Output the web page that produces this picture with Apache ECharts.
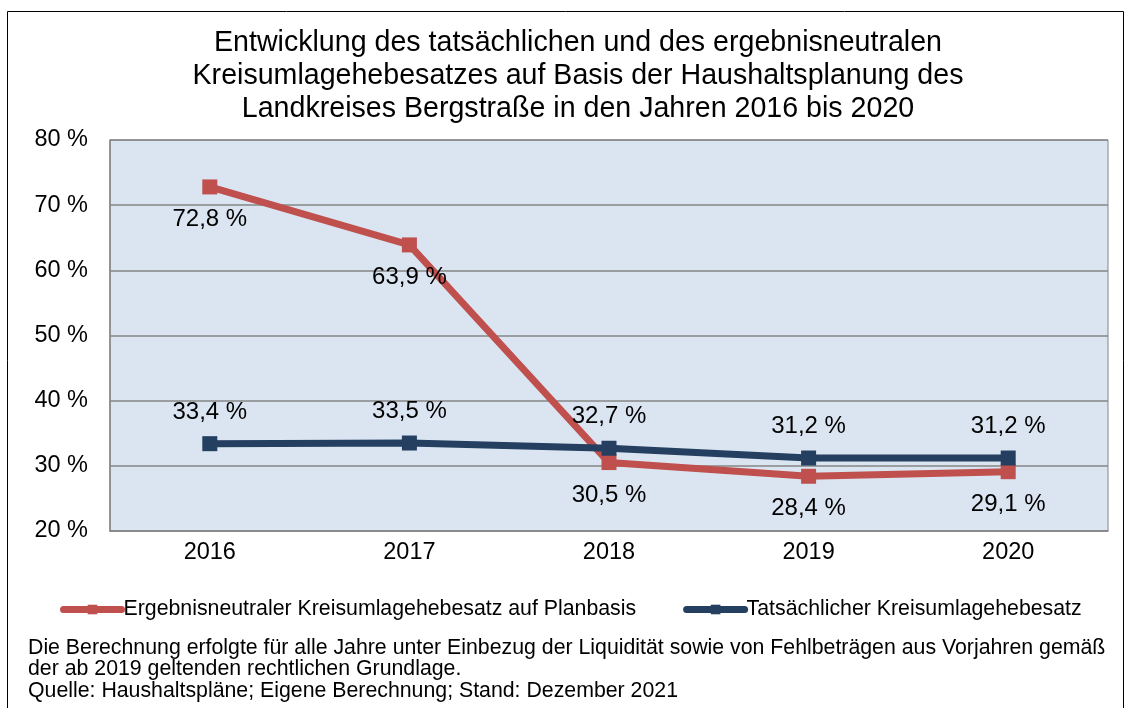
<!DOCTYPE html>
<html>
<head>
<meta charset="utf-8">
<script src="https://cdn.jsdelivr.net/npm/echarts@6/dist/echarts.min.js"></script>
<style>
html, body { margin: 0; padding: 0; background: #fff; }
#chart { width: 1131px; height: 708px; }
</style>
</head>
<body>
<div id="chart"></div>
<script>
var jahre = ['2016', '2017', '2018', '2019', '2020'];
var planbasis = [72.8, 63.9, 30.5, 28.4, 29.1];
var tatsaechlich = [33.4, 33.5, 32.7, 31.2, 31.2];
var titel = [
    'Entwicklung des tatsächlichen und des ergebnisneutralen',
    'Kreisumlagehebesatzes auf Basis der Haushaltsplanung des',
    'Landkreises Bergstraße in den Jahren 2016 bis 2020'
];
var fussnote = [
    'Die Berechnung erfolgte für alle Jahre unter Einbezug der Liquidität sowie von Fehlbeträgen aus Vorjahren gemäß',
    'der ab 2019 geltenden rechtlichen Grundlage.',
    'Quelle: Haushaltspläne; Eigene Berechnung; Stand: Dezember 2021'
];

var font = 'Liberation Sans, Arial, sans-serif';
var myChart = echarts.init(document.getElementById('chart'));

function fmt(v) {
    return v.toFixed(1).replace('.', ',') + ' %';
}

var option = {
    backgroundColor: '#fff',
    animation: false,
    legend: {
        left: 55,
        top: 594,
        itemWidth: 58,
        itemHeight: 12,
        itemGap: 47,
        lineStyle: { width: 7, cap: 'round' },
        textStyle: { fontFamily: font, fontSize: 21.3, color: '#000', padding: [0, 0, 0, -3] },
        data: ['Ergebnisneutraler Kreisumlagehebesatz auf Planbasis', 'Tatsächlicher Kreisumlagehebesatz']
    },
    grid: {
        left: 110,
        right: 23,
        top: 140,
        bottom: 177,
        show: true,
        backgroundColor: '#dbe5f1',
        borderColor: '#868686',
        borderWidth: 1
    },
    xAxis: {
        type: 'category',
        data: jahre,
        boundaryGap: true,
        axisLine: { lineStyle: { color: '#868686', width: 1.5 } },
        axisTick: { show: false },
        axisLabel: { fontFamily: font, fontSize: 23.5, color: '#000', margin: 10 }
    },
    yAxis: {
        type: 'value',
        min: 20,
        max: 80,
        interval: 10,
        axisLine: { show: true, lineStyle: { color: '#868686', width: 1.5 } },
        axisTick: { show: false },
        splitLine: { lineStyle: { color: '#868686', width: 1.5 } },
        axisLabel: {
            fontFamily: font, fontSize: 23.5, color: '#000', margin: 22,
            formatter: function (v) { return v + ' %'; }
        }
    },
    series: [
        {
            name: 'Ergebnisneutraler Kreisumlagehebesatz auf Planbasis',
            type: 'line',
            data: planbasis,
            symbol: 'rect',
            symbolSize: 15,
            z: 2,
            lineStyle: { color: '#c0504d', width: 7 },
            itemStyle: { color: '#c0504d' },
            label: {
                show: true,
                position: 'bottom',
                distance: 13,
                fontFamily: font,
                fontSize: 24,
                color: '#000',
                formatter: function (p) { return fmt(p.value); }
            }
        },
        {
            name: 'Tatsächlicher Kreisumlagehebesatz',
            type: 'line',
            data: tatsaechlich,
            symbol: 'rect',
            symbolSize: 15,
            z: 3,
            lineStyle: { color: '#243f60', width: 7 },
            itemStyle: { color: '#243f60' },
            label: {
                show: true,
                position: 'top',
                distance: 12,
                fontFamily: font,
                fontSize: 24,
                color: '#000',
                formatter: function (p) { return fmt(p.value); }
            }
        }
    ],
    graphic: [
        {
            type: 'rect',
            shape: { x: 7.5, y: 11.5, width: 1116, height: 710 },
            style: { fill: 'none', stroke: '#000', lineWidth: 1 },
            silent: true
        },
        {
            // Titel, leicht rechts von der Mitte wie im Original
            type: 'text',
            x: 578,
            y: 26,
            style: {
                text: titel.join('\n'),
                font: '28.6px ' + font,
                lineHeight: 33.3,
                align: 'center',
                fill: '#000'
            }
        },
        {
            type: 'text',
            left: 28,
            top: 637,
            style: {
                text: fussnote.join('\n'),
                font: '21.3px ' + font,
                lineHeight: 21.5,
                fill: '#000'
            }
        }
    ]
};

myChart.setOption(option);
window.addEventListener('resize', function () {
    myChart.resize();
});
</script>
</body>
</html>
